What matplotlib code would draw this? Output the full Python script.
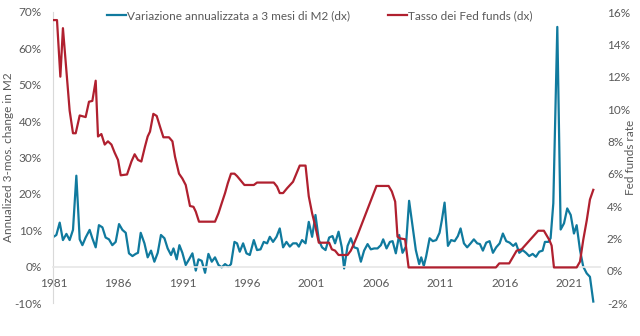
import numpy as np
import matplotlib
matplotlib.use("Agg")
import matplotlib.pyplot as plt
from matplotlib.ticker import FuncFormatter

# M2 3-month annualized change (% , left axis)
m2_years = [1981.0, 1981.21, 1981.47, 1981.72, 1981.99, 1982.24, 1982.5, 1982.76, 1983.02, 1983.23,
            1983.48, 1983.79, 1984.0, 1984.26, 1984.51, 1984.78, 1985.03, 1985.29, 1985.55, 1985.81,
            1986.07, 1986.33, 1986.59, 1986.84, 1987.11, 1987.36, 1987.54, 1987.75, 1988.04, 1988.29,
            1988.55, 1988.81, 1989.07, 1989.32, 1989.59, 1989.84, 1990.1, 1990.29, 1990.54, 1990.75,
            1990.98, 1991.24, 1991.5, 1991.76, 1992.02, 1992.23, 1992.48, 1992.74, 1993.0, 1993.26,
            1993.51, 1993.78, 1994.03, 1994.29, 1994.55, 1994.75, 1995.02, 1995.22, 1995.43, 1995.69,
            1995.95, 1996.21, 1996.52, 1996.77, 1997.04, 1997.29, 1997.55, 1997.76, 1998.01, 1998.28,
            1998.53, 1998.79, 1999.05, 1999.31, 1999.56, 1999.83, 2000.01, 2000.26, 2000.53, 2000.78,
            2001.04, 2001.3, 2001.56, 2001.81, 2002.08, 2002.36, 2002.62, 2002.82, 2003.09, 2003.34,
            2003.52, 2003.79, 2004.04, 2004.3, 2004.56, 2004.82, 2005.07, 2005.34, 2005.59, 2005.85,
            2006.11, 2006.37, 2006.55, 2006.81, 2007.07, 2007.28, 2007.53, 2007.79, 2008.05, 2008.31,
            2008.56, 2008.83, 2009.08, 2009.34, 2009.5, 2009.7, 2009.88, 2010.15, 2010.4, 2010.66,
            2010.92, 2011.1, 2011.31, 2011.57, 2011.82, 2012.09, 2012.34, 2012.55, 2012.81, 2013.06,
            2013.33, 2013.58, 2013.84, 2014.05, 2014.28, 2014.54, 2014.8, 2015.06, 2015.31, 2015.58,
            2015.83, 2016.09, 2016.35, 2016.63, 2016.84, 2017.1, 2017.36, 2017.62, 2017.87, 2018.14,
            2018.39, 2018.65, 2018.91, 2019.09, 2019.35, 2019.53, 2019.74, 2020.05, 2020.31, 2020.57,
            2020.82, 2021.09, 2021.34, 2021.55, 2021.81, 2022.06, 2022.33, 2022.58, 2022.84]
m2_change = [8.2, 8.7, 12.1, 7.3, 9.0, 7.3, 10.1, 25.0, 7.5, 5.9,
             8.0, 10.1, 7.8, 5.3, 11.4, 10.8, 8.0, 7.5, 5.9, 6.8,
             11.7, 10.1, 9.3, 3.65, 2.9, 3.5, 3.8, 9.3, 6.4, 2.55,
             4.4, 1.35, 3.8, 8.7, 7.8, 5.0, 3.2, 5.0, 2.0, 5.9,
             3.8, 0.45, 2.0, 3.65, -1.1, 2.0, 1.6, -1.7, 3.5, 1.35,
             2.55, 0.45, -0.2, 0.7, 0.0, 0.7, 6.8, 6.4, 4.1, 6.4,
             3.65, 3.2, 7.3, 4.55, 4.75, 6.8, 6.4, 8.2, 6.8, 8.2,
             10.5, 5.3, 6.8, 5.5, 6.4, 6.4, 5.5, 7.3, 6.4, 12.3,
             8.2, 14.2, 7.3, 5.3, 4.55, 8.0, 8.4, 6.4, 9.6, 5.3,
             -0.5, 5.7, 7.8, 5.3, 5.0, 1.35, 4.4, 6.2, 4.75, 5.0,
             5.0, 5.9, 7.5, 5.0, 6.8, 7.0, 3.65, 8.7, 3.8, 5.5,
             18.1, 11.0, 4.55, 0.7, 2.55, 0.2, 2.8, 7.8, 7.0, 7.3,
             9.3, 12.8, 17.6, 5.7, 7.3, 7.0, 8.4, 10.5, 6.4, 5.3,
             6.4, 7.5, 6.4, 6.2, 4.4, 6.6, 7.0, 3.8, 5.3, 6.4,
             9.1, 7.0, 6.6, 5.7, 6.4, 3.8, 4.55, 3.8, 2.9, 3.5,
             2.7, 4.1, 4.4, 6.8, 6.8, 7.8, 17.4, 65.9, 10.2, 11.9,
             16.0, 14.2, 9.1, 11.4, 4.55, 0.0, -1.85, -2.8, -9.6]

# Fed funds rate (%, right axis)
ff_years = [1981.0, 1981.26, 1981.52, 1981.72, 1982.24, 1982.5, 1982.71, 1983.02, 1983.48, 1983.74,
            1984.0, 1984.26, 1984.44, 1984.7, 1984.96, 1985.21, 1985.48, 1985.73, 1985.99, 1986.2,
            1986.69, 1987.03, 1987.28, 1987.54, 1987.8, 1988.08, 1988.29, 1988.47, 1988.73, 1988.99,
            1989.25, 1989.51, 1989.94, 1990.21, 1990.41, 1990.72, 1990.98, 1991.24, 1991.57, 1991.84,
            1992.02, 1992.27, 1993.51, 1993.78, 1994.03, 1994.29, 1994.5, 1994.75, 1995.02, 1995.22,
            1995.48, 1995.79, 1996.52, 1996.77, 1998.07, 1998.32, 1998.53, 1998.79, 1999.1, 1999.56,
            1999.83, 2000.08, 2000.53, 2000.78, 2001.04, 2001.3, 2001.56, 2002.36, 2002.57, 2002.82,
            2003.09, 2003.79, 2004.04, 2004.3, 2004.56, 2006.03, 2006.97, 2007.22, 2007.48, 2007.66,
            2007.84, 2008.25, 2008.52, 2015.29, 2015.55, 2016.32, 2016.9, 2017.28, 2017.93, 2018.57,
            2019.01, 2019.43, 2019.61, 2019.79, 2021.55, 2021.81, 2022.06, 2022.33, 2022.58, 2022.84]
ff_rate = [15.5, 15.5, 12.0, 15.0, 9.9, 8.5, 8.5, 9.6, 9.5, 10.45,
           10.5, 11.75, 8.3, 8.45, 7.8, 8.0, 7.8, 7.3, 6.85, 5.9,
           5.95, 6.75, 7.2, 6.85, 6.75, 7.67, 8.3, 8.6, 9.7, 9.57,
           8.9, 8.25, 8.25, 8.0, 7.05, 6.0, 5.7, 5.3, 4.0, 3.95,
           3.65, 3.03, 3.03, 3.55, 4.17, 4.8, 5.4, 6.0, 6.0, 5.85,
           5.6, 5.3, 5.3, 5.45, 5.45, 5.2, 4.8, 4.8, 5.1, 5.5,
           6.02, 6.5, 6.5, 4.6, 3.55, 2.7, 1.73, 1.73, 1.32, 1.24,
           0.97, 0.97, 1.24, 1.7, 2.2, 5.24, 5.24, 4.9, 4.27, 2.1,
           2.0, 1.94, 0.2, 0.2, 0.45, 0.45, 1.24, 1.32, 1.9, 2.47,
           2.47, 1.9, 1.55, 0.2, 0.2, 0.56, 1.9, 3.1, 4.4, 5.0]

year_ticks = [1981, 1986, 1991, 1996, 2001, 2006, 2011, 2016, 2021]

blue = "#107A9E"
red = "#B0202F"
grey_text = "#595959"
plt.rcParams['font.family'] = ['Lato', 'DejaVu Sans']
plt.rcParams['font.size'] = 8

fig = plt.figure(figsize=(6.4, 3.36), dpi=100)
ax = fig.add_axes([53 / 640, 1 - 303 / 336, 547 / 640, 291 / 336])
ax2 = ax.twinx()

l1, = ax.plot(m2_years, m2_change, color=blue, lw=1.6, label="Variazione annualizzata a 3 mesi di M2 (dx)")
l2, = ax2.plot(ff_years, ff_rate, color=red, lw=1.6, label="Tasso dei Fed funds (dx)")

ax.set_xlim(1980.95, 2023.36)
ax.set_ylim(-10, 70)
ax.set_yticks(np.arange(-10, 71, 10))
ax2.set_ylim(-2, 16)
ax2.set_yticks(np.arange(-2, 17, 2))
ax.set_xticks(year_ticks)

pct = FuncFormatter(lambda v, p: "%d%%" % v)
ax.yaxis.set_major_formatter(pct)
ax2.yaxis.set_major_formatter(pct)

for a in (ax, ax2):
    for s in ("top", "right", "left", "bottom"):
        a.spines[s].set_visible(False)
ax.spines["left"].set_visible(True)
ax.spines["left"].set_color("#D9D9D9")
ax.spines["bottom"].set_visible(True)
ax.spines["bottom"].set_position(("data", 0))
ax.spines["bottom"].set_color("#E6E6E6")
ax.spines["bottom"].set_linewidth(1.2)

ax.tick_params(axis="x", length=0, pad=8, colors=grey_text, labelsize=8.5)
ax.tick_params(axis="y", length=0, pad=8, colors=grey_text, labelsize=8.5)
ax2.tick_params(axis="y", length=0, pad=5, colors=grey_text, labelsize=8.5)

# axis titles placed in figure pixels so they stay inside the canvas
fig.text(9 / 640, 1 - 157 / 336, "Annualized 3-mos. change in M2", rotation=90,
         ha="center", va="center", color=grey_text, fontsize=8.5)
fig.text(631 / 640, 1 - 157 / 336, "Fed funds rate", rotation=90,
         ha="center", va="center", color=grey_text, fontsize=8.5)

fig.legend([l1, l2], [l1.get_label(), l2.get_label()], loc="center", bbox_to_anchor=(0.5, 1 - 16 / 336),
           ncol=2, frameon=False, fontsize=8.5, handlelength=1.6, handletextpad=0.1, columnspacing=3.2,
           labelcolor=grey_text)

fig.savefig("out.png", dpi=100)
